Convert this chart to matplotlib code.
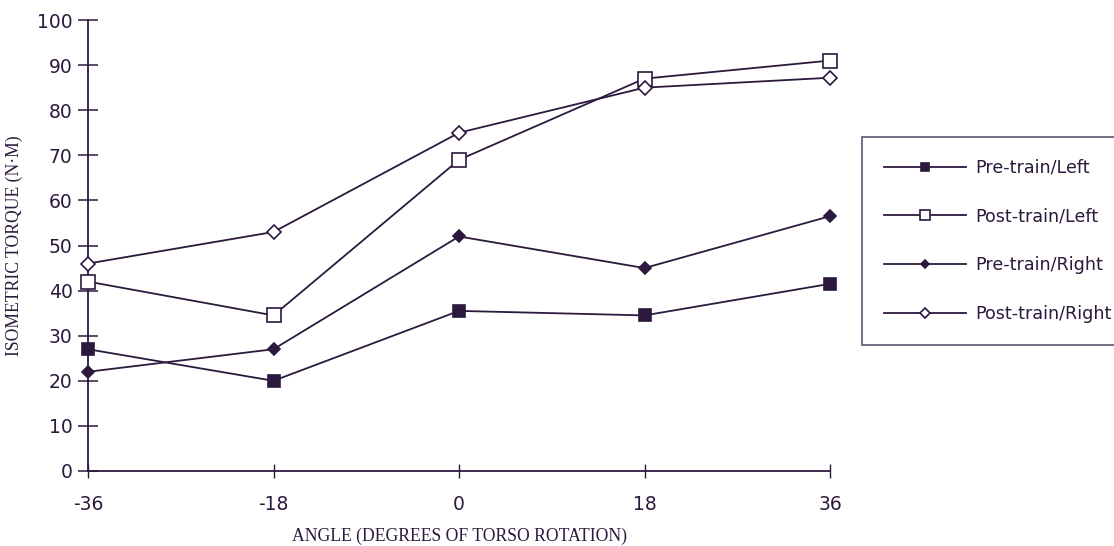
import matplotlib
matplotlib.use("Agg")
import matplotlib.pyplot as plt

plt.rcParams["axes.unicode_minus"] = False

angles = [-36, -18, 0, 18, 36]
pre_left = [27, 20, 35.5, 34.5, 41.5]
post_left = [42, 34.5, 69, 87, 91]
pre_right = [22, 27, 52, 45, 56.5]
post_right = [46, 53, 75, 85, 87.2]
labels = ["Pre-train/Left", "Post-train/Left", "Pre-train/Right", "Post-train/Right"]
yticks = list(range(0, 101, 10))

ink = "#2b1a3d"
fig = plt.figure(figsize=(11.14, 5.46), dpi=100)
ax = fig.add_axes([88/1114, 1-471/546, (830-88)/1114, (471-20)/546])

styles = [
    dict(marker="s", markersize=8, markerfacecolor=ink),
    dict(marker="s", markersize=10, markerfacecolor="white"),
    dict(marker="D", markersize=6, markerfacecolor=ink),
    dict(marker="D", markersize=7, markerfacecolor="white"),
]
series = [pre_left, post_left, pre_right, post_right]
handles = []
for vals, st, lab in zip(series, styles, labels):
    h, = ax.plot(angles, vals, color=ink, lw=1.3, markeredgecolor=ink,
                 markeredgewidth=1.2, label=lab, clip_on=False, zorder=3, **st)
    handles.append(h)

ax.set_xlim(-36, 36)
ax.set_ylim(0, 100)
ax.set_xticks(angles)
ax.set_yticks(yticks)
for s in ["top", "right"]:
    ax.spines[s].set_visible(False)
for s in ["left", "bottom"]:
    ax.spines[s].set_color(ink)
    ax.spines[s].set_linewidth(1.3)
ax.tick_params(axis="both", direction="inout", colors=ink,
               labelsize=13.5, labelcolor=ink)
ax.tick_params(axis="y", length=14, width=1.1, pad=4)
ax.tick_params(axis="x", length=10, width=1.0, pad=12)
for t in ax.get_xticklabels() + ax.get_yticklabels():
    t.set_fontfamily("DejaVu Sans")

ax.set_xlabel("ANGLE (DEGREES OF TORSO ROTATION)", fontfamily="Liberation Serif",
              fontsize=12.7, color=ink, labelpad=10)
ax.set_ylabel("ISOMETRIC TORQUE (N·M)", fontfamily="Liberation Serif",
              fontsize=12.7, color=ink, labelpad=10)

leg = fig.legend(handles=handles, labels=labels, loc="upper left",
                 bbox_to_anchor=(862/1114, 1-137/546), borderaxespad=0,
                 frameon=True, fancybox=False,
                 edgecolor=ink, fontsize=12.6, handlelength=4.7, labelspacing=1.75,
                 borderpad=1.25, handletextpad=0.5, markerscale=0.75)
leg.get_frame().set_linewidth(1.1)
for t in leg.get_texts():
    t.set_color(ink)
    t.set_fontfamily("DejaVu Sans")

fig.savefig("out.png", dpi=100, facecolor="white")
